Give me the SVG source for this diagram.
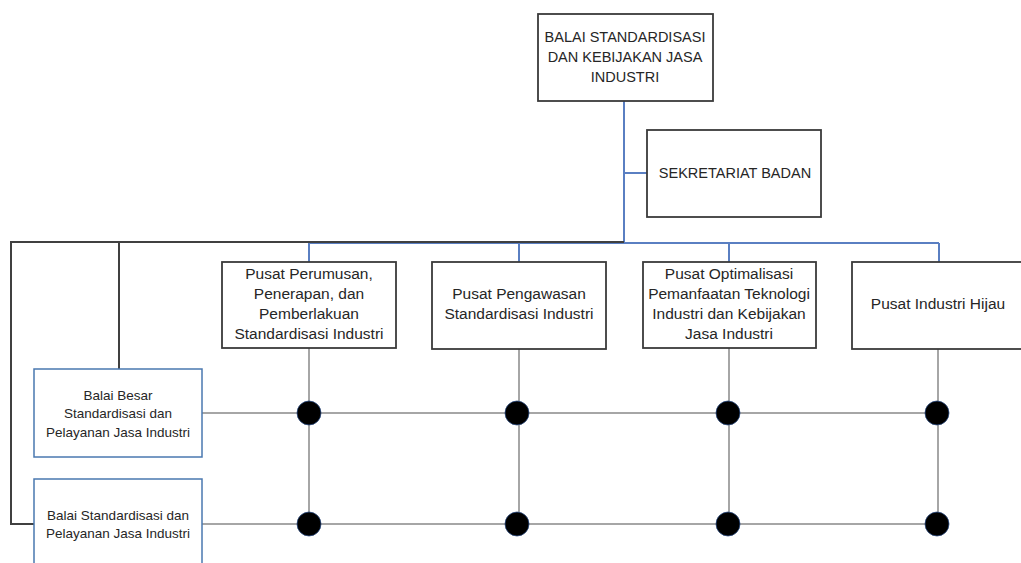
<svg xmlns="http://www.w3.org/2000/svg" width="1021" height="563" viewBox="0 0 1021 563">
<style>
.box{fill:#fff;stroke:#3a3a3a;stroke-width:1.8}
.bbox{fill:#fff;stroke:#4a78b0;stroke-width:1.5}
.t{font-family:"Liberation Sans",Arial,sans-serif;fill:#262626;text-anchor:middle}
.cap{font-size:14.5px}
.mid{font-size:15.5px}
.sm{font-size:13.5px}
.blue{stroke:#5a7fc2;stroke-width:2;fill:none}
.dark{stroke:#404040;stroke-width:2;fill:none}
.gray{stroke:#a6a6a6;stroke-width:2;fill:none}
.dot{fill:#000;stroke:#2a4a80;stroke-width:0.8}
</style>
<rect width="1021" height="563" fill="#fff"/>
<g id="connectors">
<path class="blue" d="M624 101V243"/>
<path class="blue" d="M624 173H647"/>
<path class="blue" d="M309 243H939M309 243V262M519 243V262M729 243V262M939 243V262"/>
<path class="dark" d="M624 242H11V524H34M119 242V369"/>
<path class="gray" d="M202 413H938M202 524H938"/>
<path class="gray" d="M309 348V524M519 349V524M729 348V524M938 349V524"/>
<circle class="dot" cx="309" cy="413" r="12"/>
<circle class="dot" cx="517" cy="413" r="12"/>
<circle class="dot" cx="728" cy="413" r="12"/>
<circle class="dot" cx="937" cy="413" r="12"/>
<circle class="dot" cx="309" cy="524" r="12"/>
<circle class="dot" cx="517" cy="524" r="12"/>
<circle class="dot" cx="728" cy="524" r="12"/>
<circle class="dot" cx="937" cy="524" r="12"/>
</g>
<g id="balai-standardisasi-kebijakan">
<rect class="box" x="538" y="14" width="175" height="87"/>
<text class="t cap" x="625" y="42">BALAI STANDARDISASI</text>
<text class="t cap" x="625" y="62">DAN KEBIJAKAN JASA</text>
<text class="t cap" x="625" y="82">INDUSTRI</text>
</g>
<g id="sekretariat-badan">
<rect class="box" x="647" y="130" width="174" height="87"/>
<text class="t cap" x="735" y="178">SEKRETARIAT BADAN</text>
</g>
<g id="pusat-perumusan">
<rect class="box" x="222" y="262" width="174" height="86"/>
<text class="t mid" x="309" y="279">Pusat Perumusan,</text>
<text class="t mid" x="309" y="299">Penerapan,  dan</text>
<text class="t mid" x="309" y="319">Pemberlakuan</text>
<text class="t mid" x="309" y="339">Standardisasi Industri</text>
</g>
<g id="pusat-pengawasan">
<rect class="box" x="432" y="262" width="174" height="87"/>
<text class="t mid" x="519" y="299">Pusat Pengawasan</text>
<text class="t mid" x="519" y="319">Standardisasi Industri</text>
</g>
<g id="pusat-optimalisasi">
<rect class="box" x="643" y="262" width="173" height="86"/>
<text class="t mid" x="729" y="279">Pusat Optimalisasi</text>
<text class="t mid" x="729" y="299">Pemanfaatan Teknologi</text>
<text class="t mid" x="729" y="319">Industri dan Kebijakan</text>
<text class="t mid" x="729" y="339">Jasa Industri</text>
</g>
<g id="pusat-industri-hijau">
<rect class="box" x="852" y="262" width="175" height="87"/>
<text class="t mid" x="938" y="309">Pusat Industri Hijau</text>
</g>
<g id="balai-besar">
<rect class="bbox" x="34" y="369" width="168" height="88"/>
<text class="t sm" x="118" y="400">Balai Besar</text>
<text class="t sm" x="118" y="418">Standardisasi dan</text>
<text class="t sm" x="118" y="437">Pelayanan Jasa Industri</text>
</g>
<g id="balai-standardisasi">
<rect class="bbox" x="34" y="479" width="168" height="100"/>
<text class="t sm" x="118" y="520">Balai Standardisasi dan</text>
<text class="t sm" x="118" y="538">Pelayanan Jasa Industri</text>
</g>
</svg>
